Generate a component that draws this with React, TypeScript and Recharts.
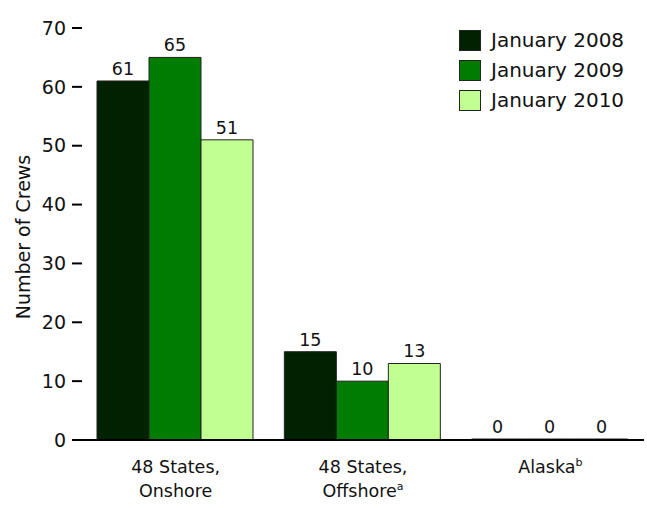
import React from "react";
import { BarChart, Bar, XAxis, YAxis, LabelList } from "recharts";

const categories = ["48 States, Onshore", "48 States, Offshore", "Alaska"];
const labelLine1 = ["48 States,", "48 States,", "Alaska"];
const labelLine2 = ["Onshore", "Offshore", ""];
const labelSup = ["", "a", "b"];
const jan2008 = [61, 15, 0];
const jan2009 = [65, 10, 0];
const jan2010 = [51, 13, 0];
const yTicks = [0, 10, 20, 30, 40, 50, 60, 70];
const seriesNames = ["January 2008", "January 2009", "January 2010"];
const seriesColors = ["#002200", "#007d00", "#c2ff92"];

const data = categories.map((c, i) => ({
  category: c,
  idx: i,
  s2008: jan2008[i],
  s2009: jan2009[i],
  s2010: jan2010[i],
}));

const FONT = "'DejaVu Sans', sans-serif";

const XTick = (props: any) => {
  const { x, y, payload } = props;
  const i = categories.indexOf(payload.value);
  const l1 = labelLine1[i];
  const l2 = labelLine2[i];
  const sup = labelSup[i];
  const supOnLine1 = l2 === "";
  return (
    <g>
      <text x={x} y={y + 25} textAnchor="middle" fontSize={17.5} fill="#111" fontFamily={FONT}>
        <tspan>{l1}</tspan>
        {supOnLine1 && sup ? (
          <tspan fontSize={11} dy={-7}>{sup}</tspan>
        ) : null}
      </text>
      {l2 ? (
        <text x={x} y={y + 49} textAnchor="middle" fontSize={17.5} fill="#111" fontFamily={FONT}>
          <tspan>{l2}</tspan>
          {sup ? <tspan fontSize={11} dy={-7}>{sup}</tspan> : null}
        </text>
      ) : null}
    </g>
  );
};

const YLabel = (props: any) => {
  const vb = props.viewBox || {};
  const cx = (vb.x || 0) + 30;
  const cy = (vb.y || 0) + (vb.height || 0) / 2 + 3;
  return (
    <text
      x={cx}
      y={cy}
      transform={`rotate(-90 ${cx} ${cy})`}
      textAnchor="middle"
      fontSize={19}
      fill="#111"
      fontFamily={FONT}
    >
      Number of Crews
    </text>
  );
};

const LegendBox = () => (
  <div style={{ position: "absolute", top: 25, left: 459, fontFamily: FONT }}>
    {seriesNames.map((n, i) => (
      <div key={n} style={{ display: "flex", alignItems: "center", height: 30 }}>
        <div
          style={{
            width: 20,
            height: 19,
            background: seriesColors[i],
            border: "1px solid #222",
            marginRight: 10,
          }}
        />
        <span style={{ fontSize: 20, color: "#111", lineHeight: "20px", whiteSpace: "nowrap" }}>{n}</span>
      </div>
    ))}
  </div>
);

export default function App() {
  return (
    <div style={{ position: "absolute", left: 0, top: 0, width: 647, height: 508, background: "#fff" }}>
      <BarChart
        width={647}
        height={508}
        data={data}
        margin={{ top: 28, right: 3, left: 0, bottom: 0 }}
        barCategoryGap={15}
        barGap={0}
        style={{ fontFamily: FONT }}
      >
        <XAxis
          dataKey="category"
          height={68}
          tickLine={false}
          axisLine={{ stroke: "#000", strokeWidth: 2 }}
          tick={<XTick />}
          interval={0}
        />
        <YAxis
          width={82}
          domain={[0, 70]}
          ticks={yTicks}
          axisLine={false}
          tickLine={{ stroke: "#000", strokeWidth: 2 }}
          tickSize={10}
          tickMargin={6}
          tick={{ fontSize: 19, fill: "#111", fontFamily: FONT }}
          label={<YLabel />}
        />
        {["s2008", "s2009", "s2010"].map((k, i) => (
          <Bar
            key={k}
            dataKey={k}
            name={seriesNames[i]}
            fill={seriesColors[i]}
            stroke="#222"
            strokeWidth={1}
            minPointSize={1}
            isAnimationActive={false}
          >
            <LabelList
              dataKey={k}
              position="top"
              offset={6}
              fontSize={17.5}
              fill="#111"
              fontFamily={FONT}
            />
          </Bar>
        ))}
      </BarChart>
      <LegendBox />
    </div>
  );
}
